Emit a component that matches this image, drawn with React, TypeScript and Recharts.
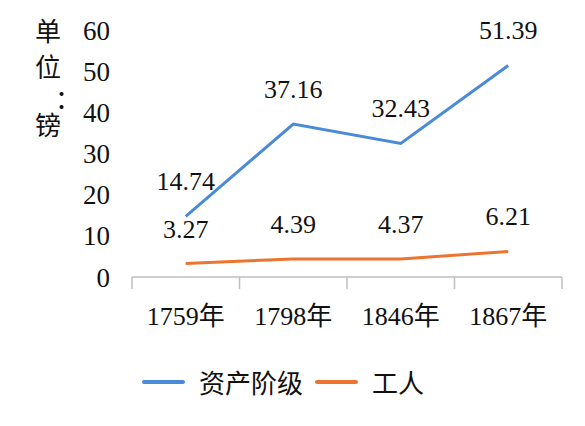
import React from 'react'
import { LineChart, Line, XAxis, YAxis, LabelList, Legend } from 'recharts'

// categories and series values
const years = ['1759年', '1798年', '1846年', '1867年']
const bourgeoisie = [14.74, 37.16, 32.43, 51.39]
const workers = [3.27, 4.39, 4.37, 6.21]
const yTicks = [0, 10, 20, 30, 40, 50, 60]
const seriesNames = ['资产阶级', '工人']
const unitLabel = ['单', '位', '：', '镑']

const BLUE = '#4A8AD6'
const ORANGE = '#EC7430'
const FONT = "'Liberation Serif', 'DejaVu Serif', 'Noto Sans CJK SC', serif"

// each category sits in the middle of its slot, so the boundary ticks fall on whole numbers
const data = years.map((year, i) => ({
  x: i + 0.5,
  year,
  bourgeoisie: bourgeoisie[i],
  workers: workers[i],
}))
const boundaryTicks = years.map((_, i) => i).concat(years.length)
const centerTicks = years.map((_, i) => i + 0.5)

const LegendContent = (props: any) => {
  const payload = [...(props.payload || [])].sort(
    (a: any, b: any) => seriesNames.indexOf(a.value) - seriesNames.indexOf(b.value)
  )
  return (
    <div style={{ display: 'flex', justifyContent: 'center', alignItems: 'center', fontFamily: FONT, fontSize: 26, color: '#111' }}>
      {payload.map((entry: any) => (
        <div key={entry.value} style={{ display: 'flex', alignItems: 'center', marginRight: 12 }}>
          <div style={{ width: 43, height: 4, borderRadius: 2, background: entry.color, marginRight: 14 }} />
          <span>{entry.value}</span>
        </div>
      ))}
    </div>
  )
}

export default function App() {
  return (
    <div style={{ position: 'absolute', left: 0, top: 0, width: 585, height: 426, background: '#fff', fontFamily: FONT }}>
      <div
        style={{
          position: 'absolute',
          left: 35,
          top: 18,
          width: 26,
          fontSize: 26,
          color: '#111',
        }}
      >
        {unitLabel.map((ch, i) => (
          <div
            key={i}
            style={{
              height: i === 2 ? 22 : 36,
              lineHeight: i === 2 ? '22px' : '30px',
              paddingLeft: i === 2 ? 20 : 0,
            }}
          >
            {ch}
          </div>
        ))}
      </div>
      <LineChart
        width={585}
        height={426}
        data={data}
        margin={{ top: 30, right: 23, left: 0, bottom: 48 }}
      >
        <XAxis
          dataKey="x"
          type="number"
          domain={[0, years.length]}
          ticks={boundaryTicks}
          tickFormatter={() => ''}
          tickSize={12}
          height={14}
          axisLine={{ stroke: '#BFBFBF', strokeWidth: 1.5 }}
          tickLine={{ stroke: '#BFBFBF', strokeWidth: 1.5 }}
        />
        <XAxis
          xAxisId="labels"
          dataKey="x"
          type="number"
          domain={[0, years.length]}
          ticks={centerTicks}
          tickFormatter={(v: number) => years[Math.floor(v)]}
          axisLine={false}
          tickLine={false}
          tickSize={4}
          tickMargin={12}
          height={50}
          tick={{ fontSize: 26, fill: '#111', fontFamily: FONT }}
        />
        <YAxis
          domain={[0, 60]}
          ticks={yTicks}
          width={132}
          axisLine={false}
          tickLine={false}
          tickSize={0}
          tickMargin={22}
          tick={{ fontSize: 27, fill: '#111', fontFamily: FONT }}
        />
        <Legend verticalAlign="bottom" content={<LegendContent />} wrapperStyle={{ bottom: 26, left: 0, paddingLeft: 8 }} />
        <Line
          name="资产阶级"
          dataKey="bourgeoisie"
          stroke={BLUE}
          strokeWidth={3}
          dot={false}
          isAnimationActive={false}
        >
          <LabelList dataKey="bourgeoisie" position="top" offset={26} fontSize={26} fill="#111" fontFamily={FONT} />
        </Line>
        <Line
          name="工人"
          dataKey="workers"
          stroke={ORANGE}
          strokeWidth={3}
          dot={false}
          isAnimationActive={false}
        >
          <LabelList dataKey="workers" position="top" offset={26} fontSize={26} fill="#111" fontFamily={FONT} />
        </Line>
      </LineChart>
    </div>
  )
}
